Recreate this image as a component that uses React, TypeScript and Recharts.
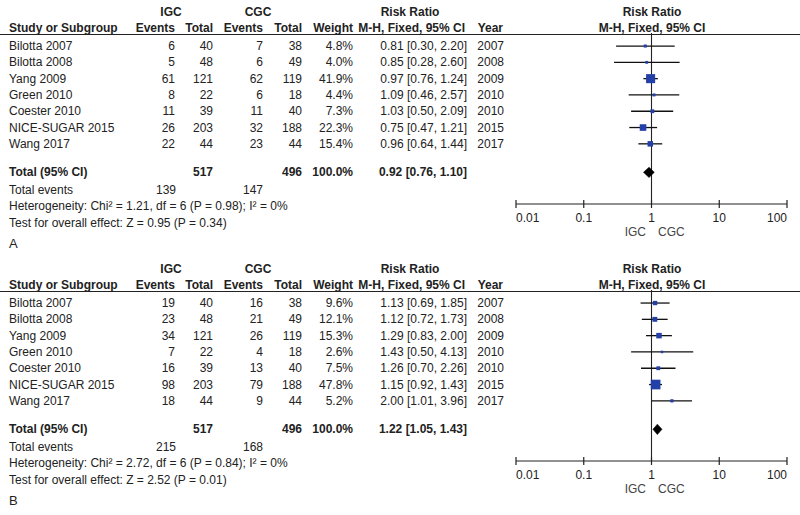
import React from "react";
import {
  ComposedChart,
  Scatter,
  ErrorBar,
  XAxis,
  YAxis,
  ReferenceLine,
} from "recharts";

// shared study info
const studies = [
  "Bilotta 2007",
  "Bilotta 2008",
  "Yang 2009",
  "Green 2010",
  "Coester 2010",
  "NICE-SUGAR 2015",
  "Wang 2017",
];
const years = [2007, 2008, 2009, 2010, 2010, 2015, 2017];
const igcTotals = [40, 48, 121, 22, 39, 203, 44];
const cgcTotals = [38, 49, 119, 18, 40, 188, 44];
const axisTicks = [0.01, 0.1, 1, 10, 100];

// panel A
const igcEventsA = [6, 5, 61, 8, 11, 26, 22];
const cgcEventsA = [7, 6, 62, 6, 11, 32, 23];
const weightsA = [4.8, 4.0, 41.9, 4.4, 7.3, 22.3, 15.4];
const rrA = [0.81, 0.85, 0.97, 1.09, 1.03, 0.75, 0.96];
const lowA = [0.3, 0.28, 0.76, 0.46, 0.5, 0.47, 0.64];
const highA = [2.2, 2.6, 1.24, 2.57, 2.09, 1.21, 1.44];
const totalA = [0.92, 0.76, 1.1];
const totalEventsA = [139, 147];
const heteroA = "Heterogeneity: Chi\u00b2 = 1.21, df = 6 (P = 0.98); I\u00b2 = 0%";
const overallA = "Test for overall effect: Z = 0.95 (P = 0.34)";

// panel B
const igcEventsB = [19, 23, 34, 7, 16, 98, 18];
const cgcEventsB = [16, 21, 26, 4, 13, 79, 9];
const weightsB = [9.6, 12.1, 15.3, 2.6, 7.5, 47.8, 5.2];
const rrB = [1.13, 1.12, 1.29, 1.43, 1.26, 1.15, 2.0];
const lowB = [0.69, 0.72, 0.83, 0.5, 0.7, 0.92, 1.01];
const highB = [1.85, 1.73, 2.0, 4.13, 2.26, 1.43, 3.96];
const totalB = [1.22, 1.05, 1.43];
const totalEventsB = [215, 168];
const heteroB = "Heterogeneity: Chi\u00b2 = 2.72, df = 6 (P = 0.84); I\u00b2 = 0%";
const overallB = "Test for overall effect: Z = 2.52 (P = 0.01)";

const panels = [
  {
    label: "A", top: 0, igcEvents: igcEventsA, cgcEvents: cgcEventsA, weights: weightsA,
    rr: rrA, low: lowA, high: highA, total: totalA, totalEvents: totalEventsA,
    hetero: heteroA, overall: overallA,
  },
  {
    label: "B", top: 257, igcEvents: igcEventsB, cgcEvents: cgcEventsB, weights: weightsB,
    rr: rrB, low: lowB, high: highB, total: totalB, totalEvents: totalEventsB,
    hetero: heteroB, overall: overallB,
  },
];

const FONT = '"Liberation Sans", Arial, sans-serif';
const INK = "#222";
const BLUE = "#2340a8";

// row layout: plot area spans y 33..204 inside each panel
const PLOT_TOP = 33;
const PLOT_BOTTOM = 204;
const ROW_H = 16.3;
const Y_MIN = -0.8;
const Y_MAX = Y_MIN + (PLOT_BOTTOM - PLOT_TOP) / ROW_H;
const TOTAL_ROW = 7.75;
const rowY = (r: number) => PLOT_TOP + (r - Y_MIN) * ROW_H;

const fmt = (v: number) => v.toFixed(2);
const ciText = (m: number, lo: number, hi: number) => `${fmt(m)} [${fmt(lo)}, ${fmt(hi)}]`;

const Square = (props: any) => {
  const s = Math.max(2.5, 1.4 * Math.sqrt(props.payload.w));
  return <rect x={props.cx - s / 2} y={props.cy - s / 2} width={s} height={s} fill={BLUE} />;
};

const DiamondShape = (props: any) => {
  const pts = (props.points || []).map((p: any) => `${p.x},${p.y}`).join(" ");
  return <polygon points={pts} fill="#000" stroke="#000" strokeWidth={0.5} />;
};

const AxisTick = (props: any) => {
  const { x, y, payload, index } = props;
  const anchor = index === 0 ? "start" : index === axisTicks.length - 1 ? "end" : "middle";
  return (
    <g>
      <line x1={x} x2={x} y1={y - 8} y2={y} stroke={INK} strokeWidth={1.2} />
      <text x={x} y={y + 14} textAnchor={anchor} fontSize={12} fill={INK} fontFamily={FONT}>
        {payload.value}
      </text>
    </g>
  );
};

function ForestPlot({ p }: { p: (typeof panels)[number] }) {
  const rows = studies.map((_, i) => ({
    x: p.rr[i],
    y: i,
    w: p.weights[i],
    err: [p.rr[i] - p.low[i], p.high[i] - p.rr[i]],
  }));
  const dh = 0.32;
  const diamond = [
    { x: p.total[1], y: TOTAL_ROW },
    { x: p.total[0], y: TOTAL_ROW - dh },
    { x: p.total[2], y: TOTAL_ROW },
    { x: p.total[0], y: TOTAL_ROW + dh },
  ];
  return (
    <div style={{ position: "absolute", left: 0, top: p.top }}>
      <ComposedChart width={800} height={240} margin={{ top: PLOT_TOP, right: 13, bottom: 6, left: 516 }}>
        <XAxis
          type="number"
          dataKey="x"
          scale="log"
          domain={[0.01, 100]}
          ticks={axisTicks}
          interval={0}
          allowDataOverflow
          height={30}
          tickLine={false}
          tickSize={4}
          tickMargin={0}
          axisLine={{ stroke: INK, strokeWidth: 1.2 }}
          tick={<AxisTick />}
        />
        <YAxis type="number" dataKey="y" domain={[Y_MIN, Y_MAX]} reversed hide allowDataOverflow />
        <ReferenceLine x={1} stroke={INK} strokeWidth={1.1} />
        <Scatter data={rows} isAnimationActive={false} shape={Square}>
          <ErrorBar dataKey="err" direction="x" width={0} stroke="#111" strokeWidth={1.3} />
        </Scatter>
        <Scatter
          data={diamond}
          isAnimationActive={false}
          shape={() => <g />}
          line={DiamondShape}
          lineType="joint"
        />
      </ComposedChart>
    </div>
  );
}

const T = (props: any) => (
  <text fontFamily={FONT} fontSize={12} fill={INK} {...props} />
);

function Table({ p }: { p: (typeof panels)[number] }) {
  const o = p.top;
  const b = (y: number) => o + y + 4;
  return (
    <g>
      {/* header */}
      <T x={171} y={b(12)} textAnchor="middle" fontWeight="bold">IGC</T>
      <T x={258} y={b(12)} textAnchor="middle" fontWeight="bold">CGC</T>
      <T x={410} y={b(12)} textAnchor="middle" fontWeight="bold">Risk Ratio</T>
      <T x={652} y={b(12)} textAnchor="middle" fontWeight="bold">Risk Ratio</T>
      <T x={9} y={b(28)} fontWeight="bold">Study or Subgroup</T>
      <T x={175} y={b(28)} textAnchor="end" fontWeight="bold">Events</T>
      <T x={213} y={b(28)} textAnchor="end" fontWeight="bold">Total</T>
      <T x={263} y={b(28)} textAnchor="end" fontWeight="bold">Events</T>
      <T x={302} y={b(28)} textAnchor="end" fontWeight="bold">Total</T>
      <T x={353} y={b(28)} textAnchor="end" fontWeight="bold">Weight</T>
      <T x={465} y={b(28)} textAnchor="end" fontWeight="bold">M-H, Fixed, 95% CI</T>
      <T x={503} y={b(28)} textAnchor="end" fontWeight="bold">Year</T>
      <T x={652} y={b(28)} textAnchor="middle" fontWeight="bold">M-H, Fixed, 95% CI</T>
      <line x1={0} x2={800} y1={o + 34.5} y2={o + 34.5} stroke={INK} strokeWidth={1.2} />

      {studies.map((s, i) => {
        const y = b(rowY(i));
        return (
          <g key={s}>
            <T x={9} y={y}>{s}</T>
            <T x={175} y={y} textAnchor="end">{p.igcEvents[i]}</T>
            <T x={213} y={y} textAnchor="end">{igcTotals[i]}</T>
            <T x={263} y={y} textAnchor="end">{p.cgcEvents[i]}</T>
            <T x={302} y={y} textAnchor="end">{cgcTotals[i]}</T>
            <T x={353} y={y} textAnchor="end">{p.weights[i].toFixed(1)}%</T>
            <T x={467} y={y} textAnchor="end">{ciText(p.rr[i], p.low[i], p.high[i])}</T>
            <T x={504} y={y} textAnchor="end">{years[i]}</T>
          </g>
        );
      })}

      {/* totals */}
      <T x={9} y={b(rowY(TOTAL_ROW))} fontWeight="bold">Total (95% CI)</T>
      <T x={213} y={b(rowY(TOTAL_ROW))} textAnchor="end" fontWeight="bold">
        {igcTotals.reduce((a, v) => a + v, 0)}
      </T>
      <T x={302} y={b(rowY(TOTAL_ROW))} textAnchor="end" fontWeight="bold">
        {cgcTotals.reduce((a, v) => a + v, 0)}
      </T>
      <T x={353} y={b(rowY(TOTAL_ROW))} textAnchor="end" fontWeight="bold">100.0%</T>
      <T x={467} y={b(rowY(TOTAL_ROW))} textAnchor="end" fontWeight="bold">
        {ciText(p.total[0], p.total[1], p.total[2])}
      </T>
      <T x={9} y={b(190)}>Total events</T>
      <T x={176} y={b(190)} textAnchor="end">{p.totalEvents[0]}</T>
      <T x={263} y={b(190)} textAnchor="end">{p.totalEvents[1]}</T>
      <T x={9} y={b(206)}>{p.hetero}</T>
      <T x={9} y={b(223)}>{p.overall}</T>
      <T x={9} y={b(243) + 1} fontSize={13}>{p.label}</T>

      {/* favours labels */}
      <T x={646} y={b(232)} textAnchor="end" fill="#444">IGC</T>
      <T x={658} y={b(232)} fill="#444">CGC</T>
    </g>
  );
}

export default function App() {
  return (
    <div style={{ position: "absolute", left: 0, top: 0, width: 800, height: 515, background: "#fff" }}>
      {panels.map((p) => (
        <ForestPlot key={p.label} p={p} />
      ))}
      <svg
        width={800}
        height={515}
        style={{ position: "absolute", left: 0, top: 0, pointerEvents: "none" }}
      >
        {panels.map((p) => (
          <Table key={p.label} p={p} />
        ))}
      </svg>
    </div>
  );
}
